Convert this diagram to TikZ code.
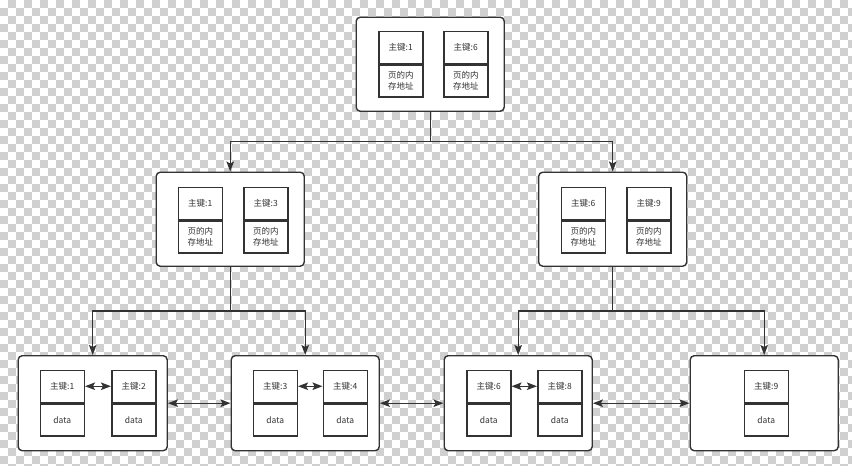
\documentclass[tikz,border=0pt]{standalone}
\usepackage{fontspec}
\setmainfont{Noto Sans CJK SC}
\usetikzlibrary{arrows.meta}
\definecolor{ink}{HTML}{333333}
\definecolor{checker}{HTML}{D0D0D0}
\tikzset{
  page/.style={draw=ink, line width=1.4pt, fill=white, rounded corners=4pt},
  cell/.style={draw=ink, line width=1.5pt, fill=white, minimum width=44pt, minimum height=32pt,
    inner sep=0pt, align=center, font=\fontsize{8.5}{11}\selectfont, text=ink},
  tip/.tip={Stealth[length=10pt,width=7.5pt,inset=2pt]},
  link/.style={draw=ink, line width=1.3pt, -tip},
  twoway/.style={draw=ink, line width=1.3pt, tip-tip},
}
% key cell with its payload cell underneath
\newcommand{\entry}[4]{%
  \node[cell, anchor=north west] (#1k) at (#2) {主键:#3};
  \node[cell, anchor=north] (#1v) at (#1k.south) {#4};
}
\begin{document}
\begin{tikzpicture}[x=1pt, y=-1pt]
\useasboundingbox (0,0) rectangle (852,466);
% checkered backdrop
\begin{scope}
\clip (0,0) rectangle (852,466);
\fill[white] (0,0) rectangle (852,466);
\foreach \j in {0,...,58} {
  \pgfmathsetmacro\off{mod(\j+1,2)*8}
  \foreach \i in {0,16,...,848}
    \fill[checker] (\i+\off, \j*8) rectangle ++(8,8);
}
\end{scope}

% root page
\node[page, anchor=north west, minimum width=148pt, minimum height=94pt] (root) at (355.5,16.5) {};
\entry{ra}{378,30.5}{1}{页的内\\存地址}
\entry{rb}{443,30.5}{6}{页的内\\存地址}

% inner pages
\node[page, anchor=north west, minimum width=148pt, minimum height=94pt] (left) at (155.5,171.5) {};
\entry{la}{177.5,186.5}{1}{页的内\\存地址}
\entry{lb}{243,186.5}{3}{页的内\\存地址}

\node[page, anchor=north west, minimum width=148pt, minimum height=94pt] (right) at (538,171.5) {};
\entry{ma}{560.5,186.5}{6}{页的内\\存地址}
\entry{mb}{626,186.5}{9}{页的内\\存地址}

% leaf pages
\node[page, anchor=north west, minimum width=149pt, minimum height=95pt] (p1) at (17.5,355) {};
\entry{a}{39.5,369.5}{1}{data}
\entry{b}{111,369.5}{2}{data}

\node[page, anchor=north west, minimum width=148pt, minimum height=95pt] (p2) at (230.5,355) {};
\entry{c}{252.5,369.5}{3}{data}
\entry{d}{322.5,369.5}{4}{data}

\node[page, anchor=north west, minimum width=148pt, minimum height=95pt] (p3) at (443.5,355) {};
\entry{e}{466,369.5}{6}{data}
\entry{f}{537,369.5}{8}{data}

\node[page, anchor=north west, minimum width=148pt, minimum height=95pt] (p4) at (689.5,355) {};
\entry{g}{743.5,369.5}{9}{data}

% tree links
\coordinate (rj) at (root.south |- 0,141.5);
\draw[link] (root.south) -- (rj) -| (left.north);
\draw[link] (rj) -| (right.north);

\coordinate (lj) at (left.south |- 0,311);
\draw[link] (left.south) -- (lj) -| (p1.north);
\draw[link] (lj) -| (p2.north);

\coordinate (mj) at (right.south |- 0,311);
\draw[link] (right.south) -- (mj) -| (p3.north);
\draw[link] (mj) -| (p4.north);

% sibling links
\draw[twoway] (ak) -- (bk);
\draw[twoway] (ck) -- (dk);
\draw[twoway] (ek) -- (fk);
\draw[twoway] (p1) -- (p2);
\draw[twoway] (p2) -- (p3);
\draw[twoway] (p3) -- (p4);
\end{tikzpicture}
\end{document}
